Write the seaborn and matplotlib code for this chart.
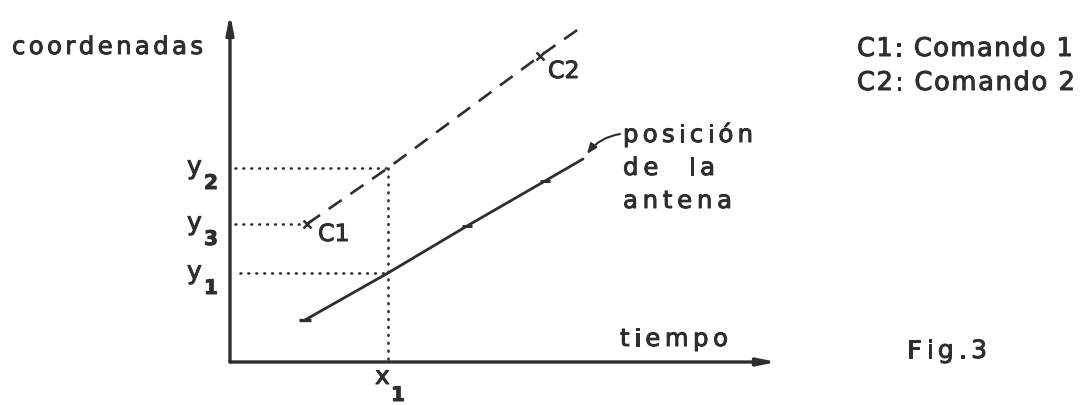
import numpy as np
import pandas as pd
import seaborn as sns
import matplotlib
matplotlib.use("Agg")
import matplotlib.pyplot as plt
import matplotlib.patheffects as pe

sns.set_theme(style="white")
plt.rcParams["font.family"] = ["DejaVu Sans"]

INK = "#2e2e2e"
HEAVY = [pe.withStroke(linewidth=0.7, foreground=INK)]

# antenna position over time (solid) and commanded trajectory (dashed)
antena_t = [7.5, 15.8, 23.7, 31.5, 35.3]
antena_y = [4.2, 8.9, 13.6, 18.1, 20.3]
comando_t = [7.7, 15.8, 31.0, 35.3]
comando_y = [13.8, 19.4, 30.6, 33.6]

c1_t, c1_y = 7.7, 13.8
c2_t, c2_y = 31.0, 30.6
x1 = 15.8
y1, y2, y3 = 8.9, 19.4, 13.8
t_max, y_max = 54.7, 34.8

fig = plt.figure(figsize=(10.8, 4.06), dpi=100)
fig.patch.set_facecolor("white")
ax = fig.add_axes([230 / 1080, 43 / 406, 547 / 1080, 348 / 406])
ax.set_xlim(0, t_max)
ax.set_ylim(0, y_max)
ax.set_facecolor("none")
for sp in ax.spines.values():
    sp.set_visible(False)
ax.set_xticks([])
ax.set_yticks([])

# axes with arrow heads
arrow = dict(arrowstyle="-|>,head_length=0.9,head_width=0.18", lw=2.4,
             color=INK, shrinkA=0, shrinkB=0)
ax.annotate("", xy=(0, 1), xytext=(0, 0), xycoords="axes fraction", arrowprops=arrow)
ax.annotate("", xy=(1, 0), xytext=(0, 0), xycoords="axes fraction", arrowprops=arrow)

# dotted reference lines
dot = dict(color=INK, lw=1.9, ls=(0, (0.3, 2.7)), dash_capstyle="round")
ax.plot([0.5, x1], [y2, y2], **dot)
ax.plot([0.5, c1_t - 0.4], [y3, y3], **dot)
ax.plot([1.0, x1], [y1, y1], **dot)
ax.plot([x1, x1], [0.3, y2], **dot)

# antenna position line
df_a = pd.DataFrame({"t": antena_t, "y": antena_y})
sns.lineplot(data=df_a, x="t", y="y", ax=ax, color=INK, lw=2.0, sort=False)
ax.plot(antena_t[2:4], antena_y[2:4], ls="none", marker="_", ms=7, mew=2.2, color=INK)
ax.plot(antena_t[:1], antena_y[:1], ls="none", marker="_", ms=9, mew=2.4, color=INK)

# commanded trajectory
df_c = pd.DataFrame({"t": comando_t, "y": comando_y})
sns.lineplot(data=df_c, x="t", y="y", ax=ax, color=INK, lw=1.9, sort=False)
ax.lines[-1].set_linestyle((0, (6, 4)))
ax.plot([c1_t, c2_t], [c1_y, c2_y], ls="none", marker="x", ms=6, mew=1.8, color=INK)

# overlay in pixel units for free text
ann = fig.add_axes([0, 0, 1, 1])
ann.set_xlim(0, 1080)
ann.set_ylim(406, 0)
ann.axis("off")
renderer = fig.canvas.get_renderer()


def tracked(x0, x1_, y, s, size):
    """Spread the glyphs of s evenly between x0 and x1_ (pixels)."""
    space = size * 100 / 72 * 0.32
    arts, widths = [], []
    for ch in s:
        if ch == " ":
            arts.append(None)
            widths.append(space)
            continue
        t = ann.text(0, y, ch, fontsize=size, color=INK, ha="left", va="baseline",
                     path_effects=HEAVY)
        arts.append(t)
        widths.append(t.get_window_extent(renderer).width)
    gap = (x1_ - x0 - sum(widths)) / max(len(s) - 1, 1)
    px = x0
    for t, w in zip(arts, widths):
        if t is not None:
            t.set_x(px)
        px += w + gap


tracked(12, 203, 55, "coordenadas", 17.5)
tracked(857, 1073, 57, "C1: Comando 1", 18.5)
tracked(857, 1075, 91, "C2: Comando 2", 18.5)
tracked(623, 753, 143, "posición", 17.5)
tracked(623, 715, 176, "de  la", 17.5)
tracked(623, 732, 209, "antena", 17.5)
tracked(620, 728, 347, "tiempo", 17.5)
tracked(907, 987, 359, "Fig.3", 18)

# command point labels
txt = dict(color=INK, va="baseline", textcoords="offset pixels", path_effects=HEAVY)
ax.annotate("C1", xy=(c1_t, c1_y), xytext=(11, -17), fontsize=17, **txt)
ax.annotate("C2", xy=(c2_t, c2_y), xytext=(8, -22), fontsize=17, **txt)

# axis value labels with subscripts
for val, sub in [(y2, "2"), (y3, "3"), (y1, "1")]:
    ax.annotate("y", xy=(0, val), xycoords=("axes fraction", "data"),
                xytext=(-43, -6), fontsize=18, ha="left", **txt)
    ax.annotate(sub, xy=(0, val), xycoords=("axes fraction", "data"),
                xytext=(-26, -21), fontsize=14.5, ha="left", fontweight="bold", **txt)
ax.annotate("x", xy=(x1, 0), xycoords=("data", "axes fraction"),
            xytext=(-13, -22), fontsize=18, ha="left", **txt)
ax.annotate("1", xy=(x1, 0), xycoords=("data", "axes fraction"),
            xytext=(3, -39), fontsize=14.5, ha="left", fontweight="bold", **txt)

# leader arrow to the antenna curve
ann.annotate("", xy=(587, 155), xytext=(620, 135),
             arrowprops=dict(arrowstyle="-|>,head_length=0.5,head_width=0.2", lw=1.5,
                             color=INK, connectionstyle="arc3,rad=0.2",
                             shrinkA=0, shrinkB=0))

fig.savefig("out.png", dpi=100, facecolor="white")
